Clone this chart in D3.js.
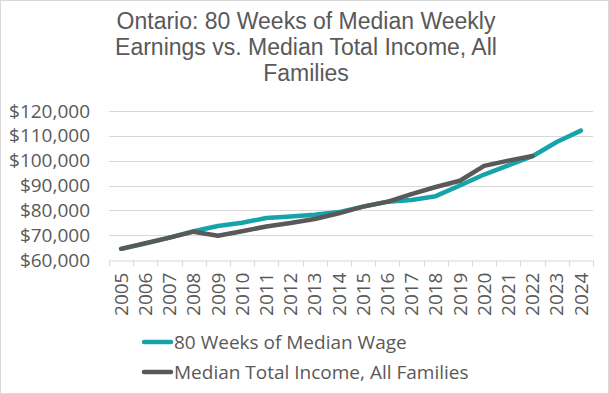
<!DOCTYPE html>
<html>
<head>
<meta charset="UTF-8">
<title>ontario_wage_vs_income</title>
<style type="text/css">
	body { margin: 0; background: #fff; }
	text { font-family: "Open Sans", sans-serif; fill: #595959; }
	.title { font-family: "Liberation Sans", Arial, sans-serif; font-size: 23px; text-anchor: middle; }
	.axis text { font-size: 19px; fill: #595959; }
	.axis path, .axis line { stroke: #d9d9d9; }
	.grid line { stroke: #d9d9d9; stroke-width: 1px; }
	.legend text { font-size: 19px; }
</style>
<script type="text/javascript" src="https://cdn.jsdelivr.net/npm/d3@7"></script>
</head>
<body>
<div id="div_main"></div>
<script type="text/javascript">

	var years = ["2005","2006","2007","2008","2009","2010","2011","2012","2013","2014",
	             "2015","2016","2017","2018","2019","2020","2021","2022","2023","2024"];
	// 80 weeks of median weekly earnings
	var wage = [64500, 66600, 69000, 71600, 73700, 75000, 76900, 77500, 78200, 79300,
	            81500, 83500, 84200, 85700, 90000, 94400, 98100, 101800, 107500, 112100];
	// median total income, all families (to 2022)
	var income = [64500, 66800, 69000, 71400, 69800, 71600, 73500, 74900, 76500, 78800,
	              81500, 83400, 86500, 89400, 91900, 97900, 100000, 101900];
	var yTicks = [60000, 70000, 80000, 90000, 100000, 110000, 120000];
	var seriesNames = ["80 Weeks of Median Wage", "Median Total Income, All Families"];
	var seriesColors = ["#17a3aa", "#595959"];
	var titleLines = ["Ontario: 80 Weeks of Median Weekly", "Earnings vs. Median Total Income, All", "Families"];

	function draw(svg_w, svg_h, id_svg_main) {

		var left = 109, right = 593, top = 111, bottom = 260;

		var svg = d3.select(id_svg_main)
			.append("svg")
				.attr("width", svg_w)
				.attr("height", svg_h);

		// chart border
		svg.append("rect")
			.attr("x", 0.5).attr("y", 0.5)
			.attr("width", svg_w - 1).attr("height", svg_h - 1)
			.attr("fill", "#fff")
			.attr("stroke", "#d9d9d9");

		// title, wrapped in one text element
		svg.append("text")
			.attr("class", "title")
			.attr("y", 29)
			.selectAll("tspan")
			.data(titleLines)
			.enter()
			.append("tspan")
				.attr("x", 306)
				.attr("dy", function (d, i) { return i === 0 ? 0 : 26; })
				.text(function (d) { return d; });

		var scaleX = d3.scaleBand()
			.domain(years)
			.range([left, right]);

		var scaleY = d3.scaleLinear()
			.domain([60000, 120000])
			.range([bottom, top]);

		// grid
		svg.append("g")
			.attr("class", "grid")
			.selectAll("line")
			.data(yTicks.slice(1))
			.enter()
			.append("line")
				.attr("x1", left).attr("x2", right)
				.attr("y1", function (d) { return Math.round(scaleY(d)) + 0.5; })
				.attr("y2", function (d) { return Math.round(scaleY(d)) + 0.5; });

		// y axis (labels only)
		var axisY = d3.axisLeft(scaleY)
			.tickValues(yTicks)
			.tickSize(0)
			.tickPadding(19)
			.tickFormat(function (d) { return "$" + d3.format(",")(d); });

		var gy = svg.append("g")
			.attr("class", "y axis")
			.attr("transform", "translate(" + left + ",0)")
			.call(axisY);
		gy.select(".domain").remove();

		// x axis with ticks at band edges
		var axisX = d3.axisBottom(scaleX).tickSize(0).tickSizeOuter(0);
		var gx = svg.append("g")
			.attr("class", "x axis")
			.attr("transform", "translate(0," + (Math.round(bottom) + 0.5) + ")")
			.call(axisX);

		gx.selectAll(".tick text")
			.attr("transform", "rotate(-90)")
			.attr("text-anchor", "end")
			.attr("x", -12)
			.attr("y", 0)
			.attr("dy", "0.35em");

		var edges = years.map(function (d) { return scaleX(d); }).concat([right]);
		gx.selectAll("line.edge")
			.data(edges)
			.enter()
			.append("line")
				.attr("class", "edge")
				.attr("x1", function (d) { return Math.round(d) + 0.5; })
				.attr("x2", function (d) { return Math.round(d) + 0.5; })
				.attr("y1", 0).attr("y2", 6)
				.attr("stroke", "#d9d9d9");

		// lines
		var line = d3.line()
			.x(function (d, i) { return scaleX(years[i]) + scaleX.bandwidth() / 2; })
			.y(function (d) { return scaleY(d); });

		[wage, income].forEach(function (values, k) {
			svg.append("path")
				.datum(values)
				.attr("fill", "none")
				.attr("stroke", seriesColors[k])
				.attr("stroke-width", 4.5)
				.attr("stroke-linecap", "round")
				.attr("stroke-linejoin", "round")
				.attr("d", line);
		});

		// legend
		var legend = svg.append("g")
			.attr("class", "legend")
			.selectAll("g")
			.data(seriesNames)
			.enter()
			.append("g")
				.attr("transform", function (d, i) { return "translate(143," + (342 + i * 30) + ")"; });

		legend.append("line")
			.attr("x1", 1).attr("x2", 28)
			.attr("y1", 0).attr("y2", 0)
			.attr("stroke", function (d, i) { return seriesColors[i]; })
			.attr("stroke-width", 4.5)
			.attr("stroke-linecap", "round");

		legend.append("text")
			.attr("x", 31)
			.attr("y", 0)
			.attr("dy", "0.35em")
			.text(function (d) { return d; });
	}

	draw(609, 394, "#div_main");

</script>
</body>
</html>
